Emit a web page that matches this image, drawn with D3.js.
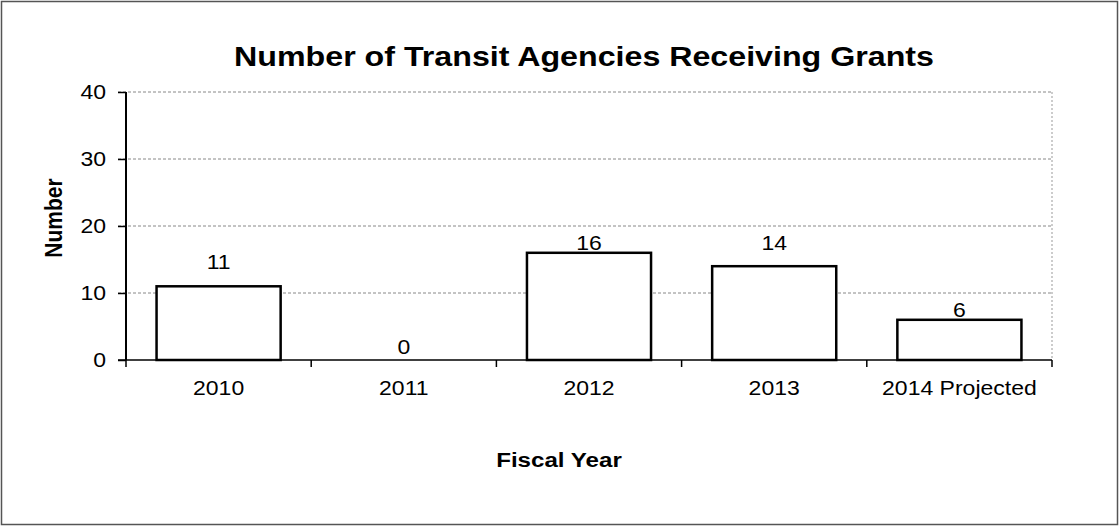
<!DOCTYPE html>
<html><head><meta charset="utf-8">
<script src="https://cdn.jsdelivr.net/npm/d3@7"></script>
<style>body{margin:0;background:#fff}svg{display:block}text{font-family:Arial,"Liberation Sans",sans-serif;fill:#000}</style>
</head><body>
<svg id="c" width="1119" height="527"></svg>
<script>
const categories = ["2010", "2011", "2012", "2013", "2014 Projected"];
const values = [11, 0, 16, 14, 6];
const yTicks = [0, 10, 20, 30, 40];
const title = "Number of Transit Agencies Receiving Grants";
const xTitle = "Fiscal Year";
const yTitle = "Number";

const W = 1119, H = 527, SX = 1.15;
const m = {left: 126, right: 1052, top: 92, bottom: 360};
const labelGap = [24, 13, 10, 23, 10];

const svg = d3.select("#c");
svg.append("rect").attr("x", 1.5).attr("y", 1.5).attr("width", W - 3).attr("height", H - 4)
  .attr("fill", "#fff").attr("stroke", "#555").attr("stroke-width", 1.5);

const x = d3.scaleBand().domain(categories).range([m.left, m.right]).paddingInner(0.33).paddingOuter(0.165);
const y = d3.scaleLinear().domain([0, 40]).range([m.bottom, m.top]);

function stext(g, tx, ty, txt, size, weight, anchor) {
  return g.append("text").attr("transform", `translate(${tx},${ty}) scale(${SX},1)`)
    .attr("text-anchor", anchor || "middle").attr("font-size", size).attr("font-weight", weight || "normal").text(txt);
}

// gridlines
svg.append("g").selectAll("line").data(yTicks.filter(d => d > 0)).join("line")
  .attr("x1", m.left - 8).attr("x2", m.right).attr("y1", d => y(d)).attr("y2", d => y(d))
  .attr("stroke", "#888").attr("stroke-width", 1).attr("stroke-dasharray", "3,2");
// right dotted border
svg.append("line").attr("x1", m.right).attr("x2", m.right).attr("y1", m.top).attr("y2", m.bottom)
  .attr("stroke", "#999").attr("stroke-dasharray", "2,2");

// bars
svg.append("g").selectAll("rect").data(values).join("rect")
  .attr("x", (d, i) => x(categories[i])).attr("width", x.bandwidth())
  .attr("y", d => y(d)).attr("height", d => y(0) - y(d))
  .attr("fill", "#fff").attr("stroke", "#000").attr("stroke-width", 2.5);

// y axis
const yAxis = d3.axisLeft(y).tickValues(yTicks).tickSize(8).tickFormat("");
const gy = svg.append("g").attr("transform", `translate(${m.left},0)`).call(yAxis);
gy.select(".domain").attr("stroke", "#000").attr("stroke-width", 2).attr("d", `M0,${m.top}V${m.bottom}`);
gy.selectAll(".tick line").attr("stroke", "#000").attr("stroke-width", 1.5);
yTicks.forEach(t => stext(svg, 106, y(t) + 7, String(t), 20, "normal", "end"));

// x axis
const xAxis = d3.axisBottom(x).tickSize(0).tickFormat("");
const gx = svg.append("g").attr("transform", `translate(0,${m.bottom})`).call(xAxis);
gx.select(".domain").attr("stroke", "#000").attr("stroke-width", 1.5).attr("d", `M${m.left - 8},0H${m.right}`);
const step = x.step();
const boundaries = d3.range(categories.length + 1).map(i => m.left + i * step);
svg.append("g").selectAll("line").data(boundaries).join("line")
  .attr("x1", d => d).attr("x2", d => d).attr("y1", m.bottom).attr("y2", m.bottom + 7)
  .attr("stroke", "#000").attr("stroke-width", 1.5);
categories.forEach(c => stext(svg, x(c) + x.bandwidth() / 2, 395, c, 20));

// value labels
values.forEach((v, i) => stext(svg, x(categories[i]) + x.bandwidth() / 2, y(v) - labelGap[i] + 7, String(v), 20));

// titles
stext(svg, 584, 66, title, 28, "bold");
stext(svg, 559, 467, xTitle, 21, "bold");
svg.append("text").attr("transform", `translate(62,218) rotate(-90) scale(1,${SX})`)
  .attr("text-anchor", "middle").attr("font-size", 21).attr("font-weight", "bold").text(yTitle);
</script>
</body></html>
